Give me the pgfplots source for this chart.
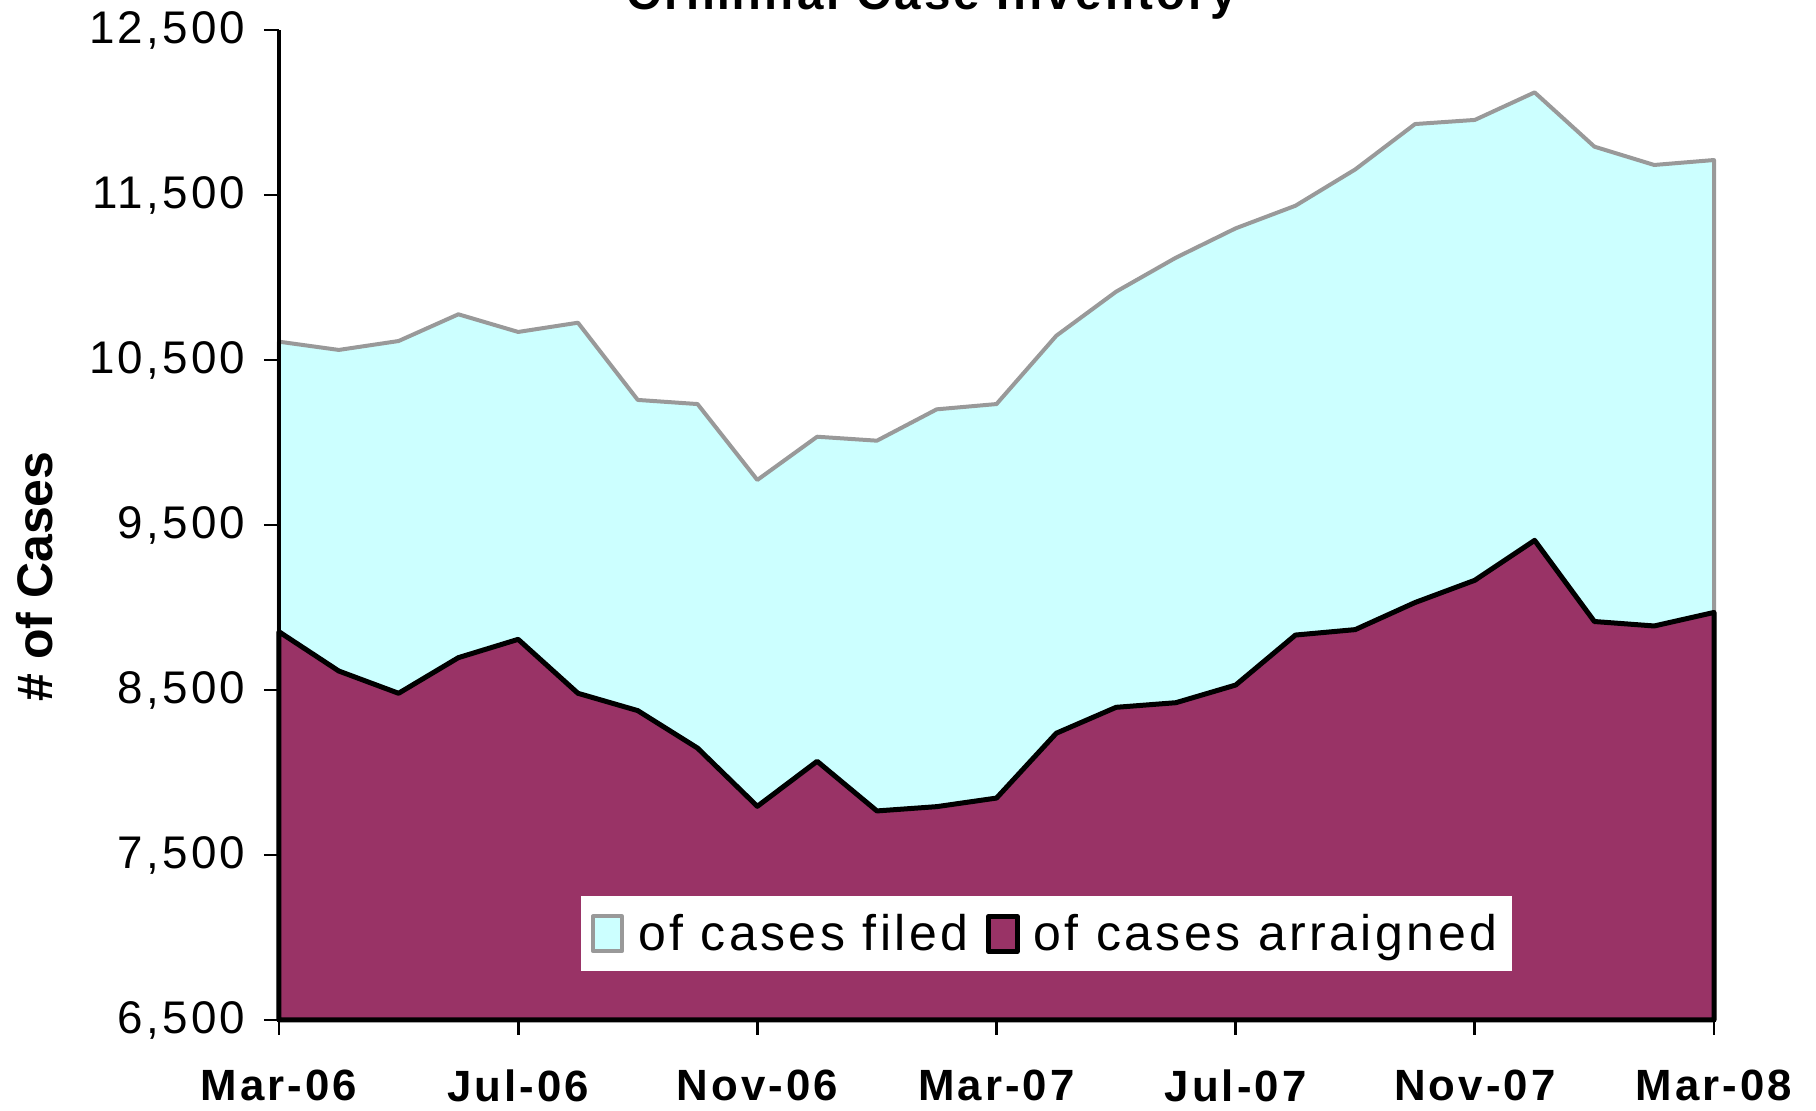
\documentclass[border=0pt]{standalone}
\usepackage{fontspec}
\setmainfont{Liberation Sans}
\newfontfamily\spaced[LetterSpace=7]{Liberation Sans}
\usepackage{pgfplots}
\pgfplotsset{compat=1.18}
\definecolor{filedfill}{HTML}{CCFFFF}
\definecolor{filedline}{HTML}{999999}
\definecolor{arrfill}{HTML}{993366}

\begin{document}
\begin{tikzpicture}
\begin{axis}[
  at={(111.6pt,36.4pt)}, anchor=south west,
  scale only axis, width=574pt, height=396pt,
  xmin=0, xmax=24, ymin=6500, ymax=12500,
  axis x line*=bottom, axis y line*=left,
  axis line style={line width=1.6pt, black},
  tick align=outside, major tick length=6pt,
  tick style={line width=1.1pt, black},
  xtick={0,4,...,24},
  xticklabels={Mar-06,Jul-06,Nov-06,Mar-07,Jul-07,Nov-07,Mar-08},
  ytick={6500,7500,...,12500},
  scaled y ticks=false,
  minor tick num=0,
  /pgf/number format/assume math mode=true,
  /pgf/number format/1000 sep={,},
  yticklabel style={font=\spaced\fontsize{18.3}{20}\selectfont, xshift=-4pt},
  xticklabel style={font=\spaced\bfseries\fontsize{17.5}{19}\selectfont, yshift=-10.5pt},
  ylabel={\# of Cases},
  ylabel style={font=\bfseries\fontsize{20}{22}\selectfont, at={(axis description cs:-0.170,0.448)}, anchor=center},
  clip=false, axis on top,
  legend columns=2,
  legend style={at={(axis description cs:0.535,0.087)}, anchor=center, draw=none, fill=white,
    font=\spaced\fontsize{20}{22}\selectfont, inner xsep=4pt, inner ysep=5pt,
    /tikz/every even column/.append style={column sep=5pt}},
  legend image code/.code={\draw[#1] (0pt,-7pt) rectangle (11.5pt,7pt);
    \path[draw=none, fill=none] (0pt,0pt) -- (16pt,0pt);},
]
\addplot[fill=filedfill, draw=filedline, line width=1.6pt, line join=round] coordinates {
  (0,6500) (0,10611) (1,10561) (2,10615) (3,10777) (4,10670) (5,10726) (6,10258)
  (7,10233) (8,9773) (9,10035) (10,10011) (11,10201) (12,10233) (13,10647)
  (14,10914) (15,11120) (16,11298) (17,11435) (18,11655) (19,11930) (20,11955)
  (21,12122) (22,11793) (23,11682) (24,11712) (24,6500)} -- cycle;
\addlegendentry{of cases filed}
\addplot[fill=arrfill, draw=black, line width=2pt, line join=round] coordinates {
  (0,6500) (0,8853) (1,8615) (2,8480) (3,8696) (4,8807) (5,8480) (6,8375)
  (7,8148) (8,7795) (9,8068) (10,7767) (11,7793) (12,7845) (13,8238)
  (14,8395) (15,8423) (16,8530) (17,8833) (18,8866) (19,9030) (20,9165)
  (21,9407) (22,8915) (23,8888) (24,8970) (24,6500)} -- cycle;
\addlegendentry{of cases arraigned}
\end{axis}
\pgfresetboundingbox
\path[use as bounding box] (0pt,0pt) rectangle (726.4pt,444.4pt);
\node[anchor=base, font=\spaced\bfseries\fontsize{19}{21}\selectfont, inner sep=0pt] at (372.8pt,440.4pt) {Criminal Case Inventory};
\end{tikzpicture}
\end{document}
